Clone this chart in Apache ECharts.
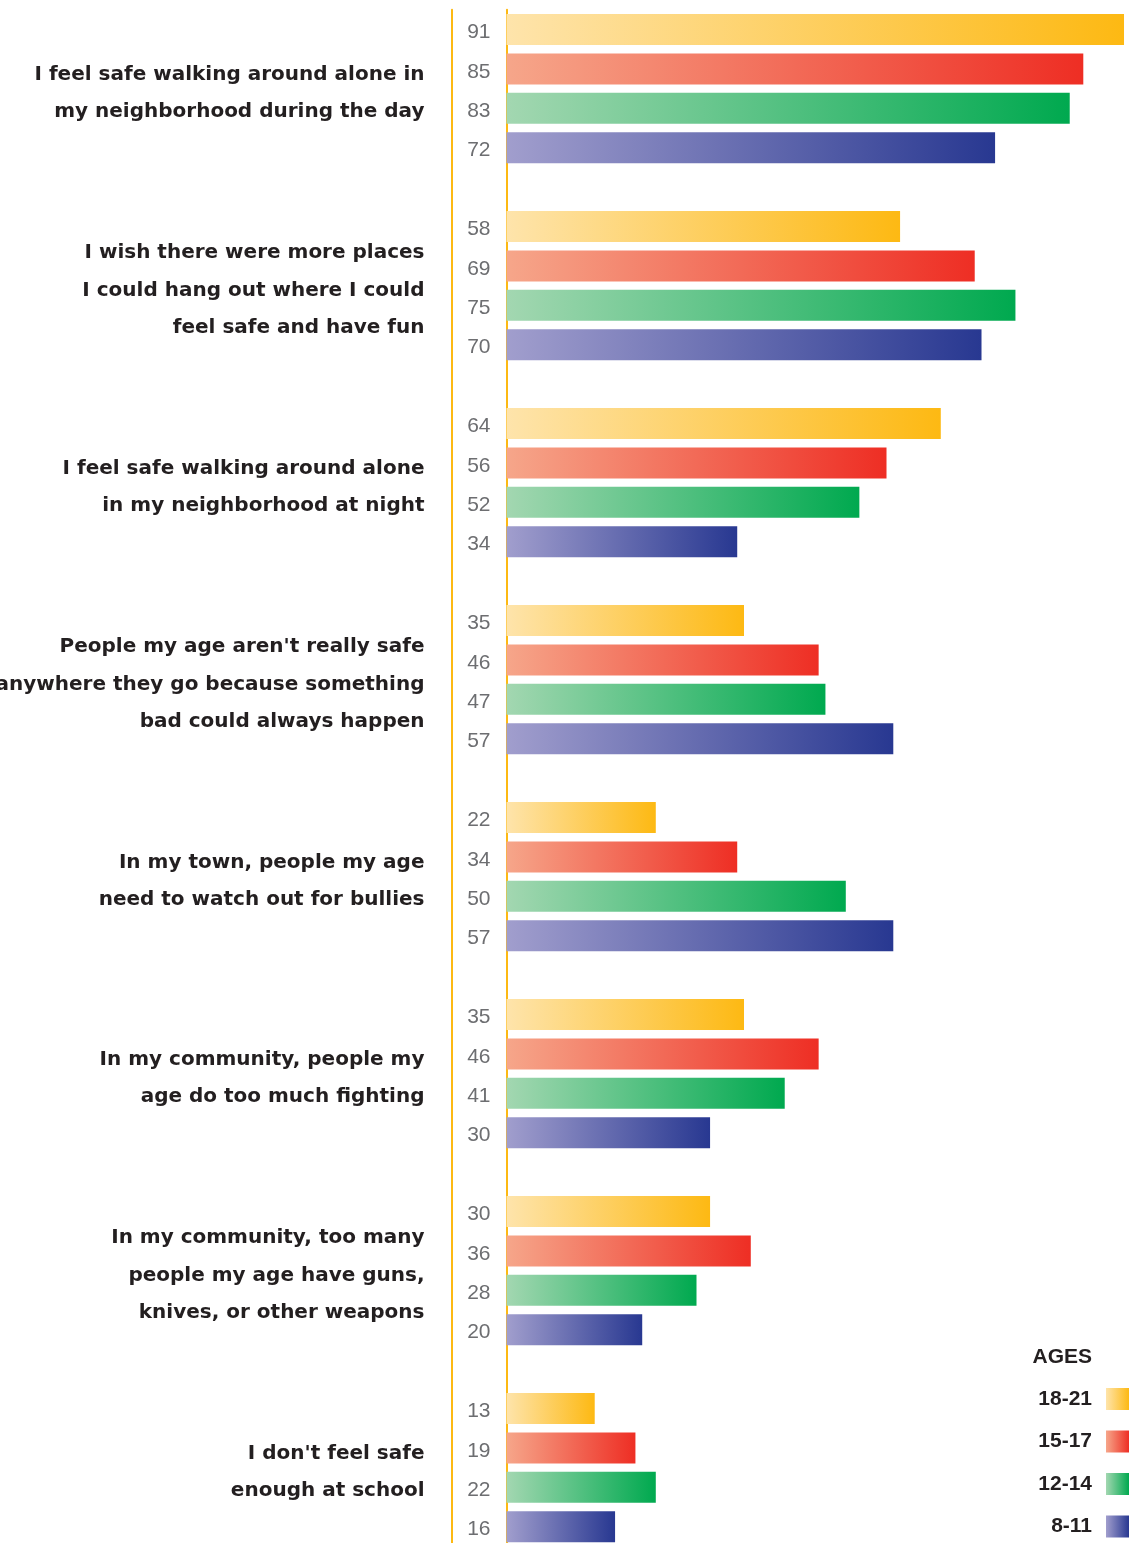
<!DOCTYPE html>
<html>
<head>
<meta charset="utf-8">
<style>
html,body{margin:0;padding:0;background:#fff;}
#chart{width:1129px;height:1543px;}
</style>
<script src="https://cdn.jsdelivr.net/npm/echarts@6/dist/echarts.min.js"></script>
</head>
<body>
<div id="chart"></div>
<script>
const questions = [
  'I feel safe walking around alone in\nmy neighborhood during the day',
  'I wish there were more places\nI could hang out where I could\nfeel safe and have fun',
  'I feel safe walking around alone\nin my neighborhood at night',
  "People my age aren't really safe\nanywhere they go because something\nbad could always happen",
  'In my town, people my age\nneed to watch out for bullies',
  'In my community, people my\nage do too much fighting',
  'In my community, too many\npeople my age have guns,\nknives, or other weapons',
  "I don't feel safe\nenough at school"
];
const ages = ['18-21', '15-17', '12-14', '8-11'];
const values1821 = [91, 58, 64, 35, 22, 35, 30, 13];
const values1517 = [85, 69, 56, 46, 34, 46, 36, 19];
const values1214 = [83, 75, 52, 47, 50, 41, 28, 22];
const values811  = [72, 70, 34, 57, 57, 30, 20, 16];
const seriesValues = [values1821, values1517, values1214, values811];
const gradients = [
  ['#FEE4AB', '#FDB913'],
  ['#F6A68A', '#EE2E24'],
  ['#A3D7B1', '#00A94F'],
  ['#A19ECD', '#283891']
];

// slots: 4 bars per group + 1 gap slot between groups
const SLOTS_PER_GROUP = 5;
const nSlots = questions.length * SLOTS_PER_GROUP - 1;
const slotNames = [];
for (let i = 0; i < nSlots; i++) slotNames.push('s' + i);

const series = seriesValues.map((vals, k) => {
  const data = new Array(nSlots).fill('-');
  vals.forEach((v, i) => { data[i * SLOTS_PER_GROUP + k] = v; });
  return {
    name: ages[k],
    type: 'bar',
    data: data,
    barWidth: 31,
    barGap: '-100%',
    itemStyle: {
      color: new echarts.graphic.LinearGradient(0, 0, 1, 0, [
        { offset: 0, color: gradients[k][0] },
        { offset: 1, color: gradients[k][1] }
      ])
    },
    label: {
      show: true,
      position: 'left',
      distance: 16,
      offset: [0, 3],
      color: '#6D6E71',
      fontFamily: 'Liberation Sans',
      fontSize: 21
    }
  };
});

const lineColor = '#FDB913';
const chart = echarts.init(document.getElementById('chart'), null, { renderer: 'canvas' });
chart.setOption({
  animation: false,
  backgroundColor: '#ffffff',
  title: {
    text: 'AGES',
    right: 37,
    top: 1347,
    padding: 0,
    textStyle: { fontFamily: 'Liberation Sans', fontWeight: 'bold', fontSize: 21, color: '#231F20' }
  },
  legend: {
    orient: 'vertical',
    right: 0,
    top: 1388,
    align: 'right',
    itemWidth: 23,
    itemHeight: 22,
    itemGap: 20.5,
    icon: 'rect',
    padding: 0,
    textStyle: { fontFamily: 'Liberation Sans', fontWeight: 'bold', fontSize: 21, color: '#231F20', padding: [0, 9, 0, 0] },
    data: ages
  },
  grid: { left: 506.5, top: 9.8, width: 624.3, height: 39.4 * nSlots, outerBoundsMode: 'none', containLabel: false },
  xAxis: { type: 'value', min: 0, max: 92, show: false },
  yAxis: [
    {
      type: 'category',
      data: slotNames,
      inverse: true,
      axisLine: { show: true, lineStyle: { color: lineColor, width: 2 } },
      axisTick: { show: false },
      axisLabel: {
        interval: 0,
        margin: 82,
        formatter: function (val, idx) {
          if (idx % SLOTS_PER_GROUP !== 1) return '';
          const q = questions[(idx - 1) / SLOTS_PER_GROUP];
          return '{gap| }\n' + q.split('\n').map(l => '{q|' + l + '}').join('\n');
        },
        rich: {
          gap: { lineHeight: 49, fontSize: 10 },
          q: {
            fontFamily: 'DejaVu Sans',
            fontWeight: 'bold',
            fontSize: 20,
            color: '#231F20',
            lineHeight: 37.5,
            align: 'right'
          }
        }
      },
      splitLine: { show: false }
    },
    {
      type: 'category',
      data: slotNames,
      inverse: true,
      position: 'left',
      offset: 54.5,
      axisLine: { show: true, lineStyle: { color: lineColor, width: 2 } },
      axisTick: { show: false },
      axisLabel: { show: false },
      splitLine: { show: false }
    }
  ],
  series: series
});
</script>
</body>
</html>
